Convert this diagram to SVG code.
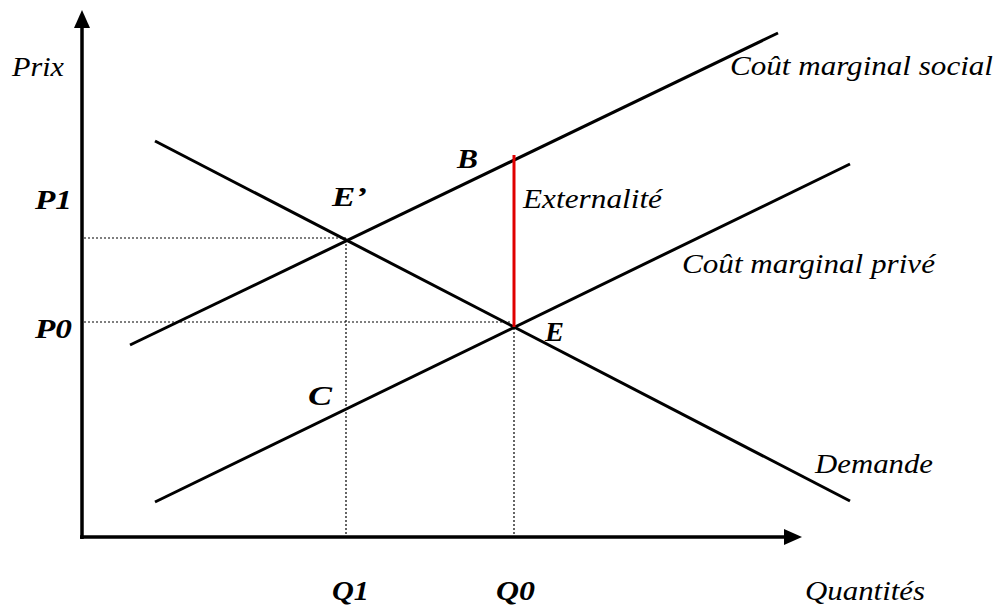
<svg xmlns="http://www.w3.org/2000/svg" width="997" height="610" viewBox="0 0 997 610">
<style>
.t{font-family:"Liberation Serif","DejaVu Serif",serif;font-style:italic;font-size:27px;fill:#000}
.b{font-weight:bold}
.ln{stroke:#000;stroke-width:3;fill:none}
.ax{stroke:#000;stroke-width:3.5;fill:none}
.dot{stroke:#000;stroke-width:1.2;stroke-dasharray:2 2;fill:none}
</style>
<rect width="997" height="610" fill="#fff"/>
<g id="axes">
<line class="ax" x1="82" y1="539" x2="82" y2="28"/>
<path d="M74,28 L82,10 L90,28 z" fill="#000"/>
<line class="ax" x1="80" y1="537" x2="786" y2="537"/>
<path d="M784,529 L802,537 L784,545 z" fill="#000"/>
</g>
<g id="connectors">
<line class="dot" x1="84" y1="238" x2="346" y2="238"/>
<line class="dot" x1="84" y1="322" x2="512" y2="322"/>
<line class="dot" x1="346" y1="240" x2="346" y2="537"/>
<line class="dot" x1="514" y1="328" x2="514" y2="537"/>
<line id="social" class="ln" x1="130" y1="345" x2="778" y2="33"/>
<line id="prive" class="ln" x1="155" y1="502" x2="850" y2="164"/>
<line id="demande" class="ln" x1="155" y1="141" x2="850" y2="501"/>
<line id="externalite" x1="514" y1="155" x2="514" y2="327" stroke="#e00000" stroke-width="3"/>
</g>
<g id="labels">
<text class="t" x="12" y="76" textLength="52" lengthAdjust="spacingAndGlyphs">Prix</text>
<text class="t b" x="35" y="209" textLength="37" lengthAdjust="spacingAndGlyphs">P1</text>
<text class="t b" x="35" y="338" textLength="37" lengthAdjust="spacingAndGlyphs">P0</text>
<text class="t b" x="332" y="206" textLength="35" lengthAdjust="spacingAndGlyphs">E’</text>
<text class="t b" x="457" y="168" textLength="21" lengthAdjust="spacingAndGlyphs">B</text>
<text class="t b" x="545" y="341" textLength="19" lengthAdjust="spacingAndGlyphs">E</text>
<text class="t b" x="308" y="405" textLength="24" lengthAdjust="spacingAndGlyphs">C</text>
<text class="t b" x="332" y="600" textLength="37" lengthAdjust="spacingAndGlyphs">Q1</text>
<text class="t b" x="496" y="600" textLength="39" lengthAdjust="spacingAndGlyphs">Q0</text>
<text class="t" x="805" y="600" textLength="120" lengthAdjust="spacingAndGlyphs">Quantités</text>
<text class="t" x="815" y="473" textLength="118" lengthAdjust="spacingAndGlyphs">Demande</text>
<text class="t" x="523" y="208" textLength="139" lengthAdjust="spacingAndGlyphs">Externalité</text>
<text class="t" x="682" y="273" textLength="253" lengthAdjust="spacingAndGlyphs">Coût marginal privé</text>
<text class="t" x="730" y="75" textLength="263" lengthAdjust="spacingAndGlyphs">Coût marginal social</text>
</g>
</svg>
